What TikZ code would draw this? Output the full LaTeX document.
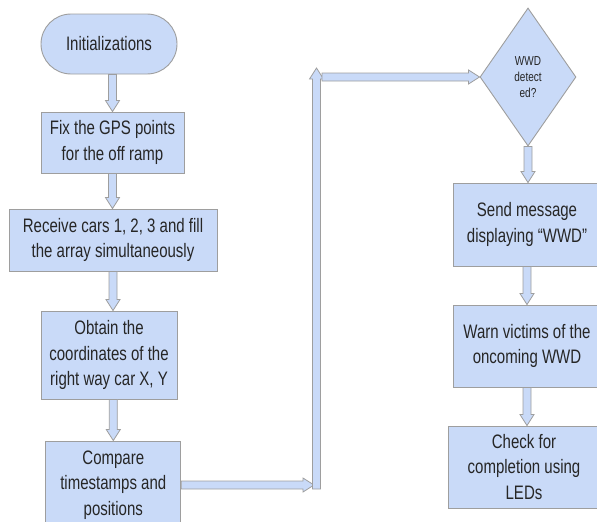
\documentclass[tikz,border=0pt]{standalone}
\usepackage{fontspec}
\setmainfont{Liberation Sans}[FakeStretch=0.77]
\usetikzlibrary{shapes.geometric,calc}
\definecolor{boxblue}{HTML}{C9DAF8}
\definecolor{edgegray}{HTML}{9E9E9E}
\tikzset{
  box/.style={draw=edgegray, fill=boxblue, line width=0.9pt, align=center, inner sep=0pt,
    text=black!85, font=\fontsize{19.5}{25.5}\selectfont},
  term/.style={box, rounded corners=30pt},
  decide/.style={box, diamond, aspect=0.7, font=\fontsize{13}{16}\selectfont},
  blk/.style={draw=edgegray, fill=boxblue, line width=0.8pt, line join=miter,
    to path={($(\tikztostart)!4pt!90:(\tikztotarget)$)
      -- ($(\tikztotarget)!11pt!(\tikztostart)!4pt!90:(\tikztotarget)$)
      -- ($(\tikztotarget)!11pt!(\tikztostart)!7pt!90:(\tikztotarget)$)
      -- (\tikztotarget)
      -- ($(\tikztotarget)!11pt!(\tikztostart)!7pt!-90:(\tikztotarget)$)
      -- ($(\tikztotarget)!11pt!(\tikztostart)!4pt!-90:(\tikztotarget)$)
      -- ($(\tikztostart)!4pt!-90:(\tikztotarget)$) -- cycle}}
}
\begin{document}
\begin{tikzpicture}[x=1pt,y=-1pt]
\useasboundingbox (0,0) rectangle (597,522);
% left column
\node[term, minimum width=136pt, minimum height=60pt] (init) at (109,44) {Initializations};
\node[box, minimum width=143pt, minimum height=61pt] (fix) at (112.5,142.5) {Fix the GPS points\\for the off ramp};
\node[box, minimum width=208pt, minimum height=62pt] (recv) at (113,240) {Receive cars 1, 2, 3 and fill\\the array simultaneously};
\node[box, minimum width=136pt, minimum height=88pt] (obtain) at (109,355) {Obtain the\\coordinates of the\\right way car X, Y};
\node[box, minimum width=135pt, minimum height=88pt] (compare) at (113.3,485) {Compare\\timestamps and\\positions};
% right column
\node[decide, minimum width=96pt, minimum height=138pt] (dec) at (528,77) {WWD\\detect\\ed?};
\node[box, minimum width=148pt, minimum height=83pt] (send) at (527,224.5) {Send message\\displaying “WWD”};
\node[box, minimum width=148pt, minimum height=82pt] (warn) at (527,346) {Warn victims of the\\oncoming WWD};
\node[box, minimum width=152pt, minimum height=82pt] (check) at (524,467) {Check for\\completion using\\LEDs};
% loop over
\coordinate (c1) at (314,485);
\coordinate (c2) at (316.5,489);
\coordinate (c3) at (316.5,68);
\coordinate (c4) at (322,77);
\draw[blk] (init.south -| fix.north) to (fix.north);
\draw[blk] (fix.south) to (fix.south |- recv.north);
\draw[blk] (recv.south) to (recv.south |- obtain.north);
\draw[blk] (obtain.south -| compare.north) to (compare.north);
\draw[blk] (compare.east) to (c1);
\draw[blk] (c2) to (c3);
\draw[blk] (c4) to (dec.west);
\draw[blk] (dec.south) to (dec.south |- send.north);
\draw[blk] (send.south -| warn.north) to (warn.north);
\draw[blk] (warn.south) to (warn.south |- check.north);
\end{tikzpicture}
\end{document}
